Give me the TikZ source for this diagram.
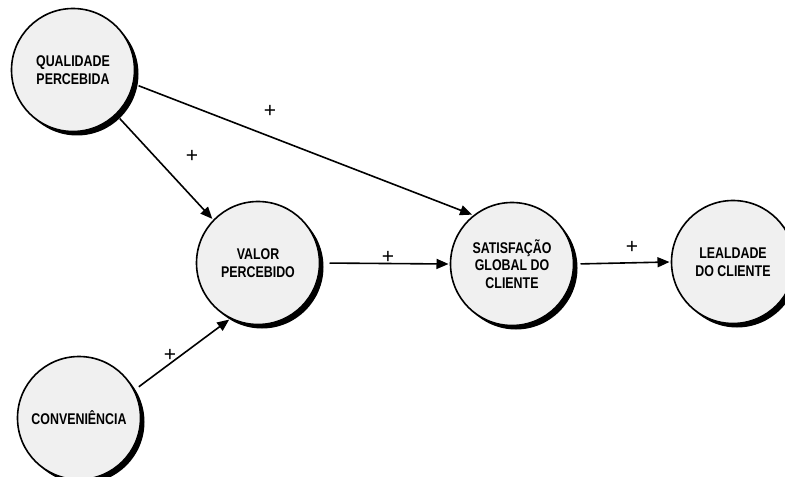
\documentclass[tikz,border=0pt]{standalone}
\usepackage{fontspec}
\setmainfont{Liberation Sans}
\newfontfamily\boxfont[FakeStretch=0.8]{Liberation Sans}
\usetikzlibrary{arrows.meta,shadows}
\definecolor{bubble}{HTML}{F0F0F0}
\tikzset{
  construct/.style={circle, draw=black, line width=1.6bp, fill=bubble,
    minimum size=123bp, inner sep=0pt, outer sep=2bp, align=center,
    font=\boxfont\fontsize{15.5bp}{17.5bp}\selectfont\bfseries,
    drop shadow={shadow xshift=4bp, shadow yshift=-4bp, fill=black, opacity=1}},
  link/.style={line width=1.6bp, -{Triangle[length=12bp,width=10bp]}, shorten <=4bp},
  sign/.style={inner sep=0pt, font=\fontsize{21bp}{21bp}\selectfont}
}
\begin{document}
\begin{tikzpicture}[x=1bp,y=-1bp]
\useasboundingbox (0,0) rectangle (785,477);
\clip (0,0) rectangle (785,477);

\node[construct] (q) at (73,70)  {QUALIDADE\\PERCEBIDA};
\node[construct] (v) at (258,263) {VALOR\\PERCEBIDO};
\node[construct] (s) at (512,264) {SATISFAÇÃO\\GLOBAL DO\\CLIENTE};
\node[construct] (l) at (733,262) {LEALDADE\\DO CLIENTE};
\node[construct] (c) at (79,418) {CONVENIÊNCIA};

\draw[link] (q.-46) -- (v.136);
\draw[link] (q.-13) -- (s.129);
\draw[link, shorten <=8bp] (v.east) -- (s.west);
\draw[link, shorten <=5bp] (s.east) -- (l.west);
\draw[link] (c.27) -- (v.-117);

\node[sign] (p1) at (192,156) {+};
\node[sign] (p2) at (270,111) {+};
\node[sign] (p3) at (388,257) {+};
\node[sign] (p4) at (632,247) {+};
\node[sign] (p5) at (170,355) {+};
\end{tikzpicture}
\end{document}
